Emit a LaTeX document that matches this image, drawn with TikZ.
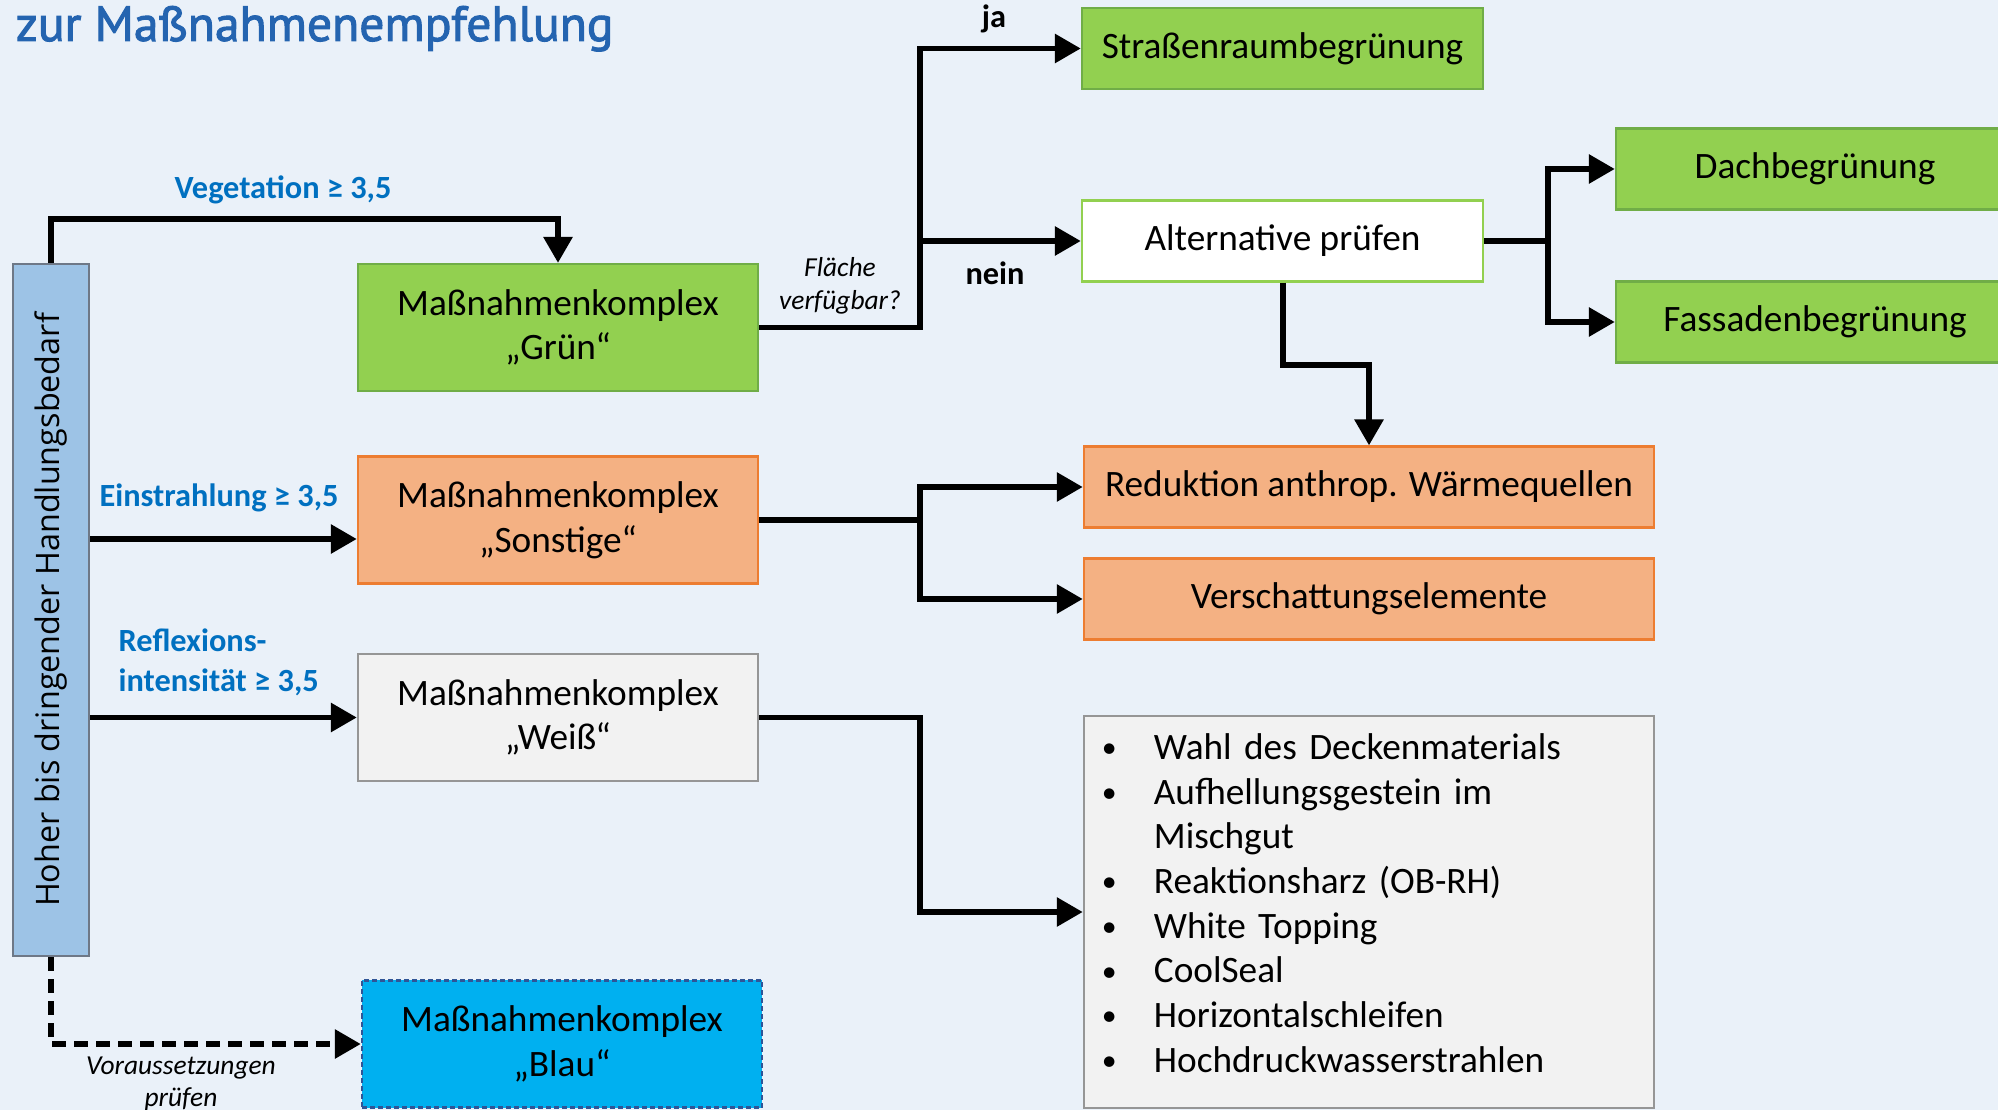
\documentclass[tikz,border=0pt]{standalone}
\usepackage{fontspec}
\setmainfont{Carlito}
\newfontfamily\titelfont[FakeBold=2]{PT Sans}
\newfontfamily\balkenfont{Open Sans}
\usetikzlibrary{arrows.meta}

\definecolor{hintergrund}{RGB}{234,241,249}
\definecolor{titelblau}{RGB}{36,100,176}
\definecolor{labelblau}{RGB}{0,112,192}
\definecolor{gruenfill}{RGB}{146,208,80}
\definecolor{gruenrand}{RGB}{112,173,71}
\definecolor{orangefill}{RGB}{244,177,131}
\definecolor{orangerand}{RGB}{237,125,49}
\definecolor{grauflaeche}{RGB}{242,242,242}
\definecolor{graurand}{RGB}{150,150,150}
\definecolor{blaufill}{RGB}{0,176,240}
\definecolor{blaurand}{RGB}{47,85,151}
\definecolor{balkenfill}{RGB}{157,195,230}
\definecolor{balkenrand}{RGB}{110,120,135}

\newcommand{\punkt}{\makebox[0.52cm][l]{\raisebox{0.1ex}{\scalebox{0.8}{\textbullet}}}}

\tikzset{
  kasten/.style={draw, line width=0.6pt, inner sep=0pt, align=center,
    minimum width=4cm, minimum height=1.27cm,
    font=\fontsize{10.6}{12.7}\selectfont},
  gruenbox/.style={kasten, fill=gruenfill, draw=gruenrand},
  orangebox/.style={kasten, fill=orangefill, draw=orangerand},
  weissbox/.style={kasten, fill=grauflaeche, draw=graurand},
  blaubox/.style={kasten, fill=blaufill, draw=blaurand, dash pattern=on 0.05cm off 0.03cm},
  flachbox/.style={minimum height=0.81cm},
  balken/.style={draw=balkenrand, fill=balkenfill, line width=0.6pt, rotate=90,
    minimum width=6.92cm, minimum height=0.76cm, inner sep=0pt,
    font=\balkenfont\fontsize{9.2}{11}\selectfont},
  listbox/.style={weissbox, align=left, text width=5.34cm, inner xsep=0.18cm,
    minimum width=5.7cm, minimum height=3.92cm},
  pfeil/.style={line width=1.7pt, -{Triangle[length=0.26cm,width=0.28cm]}},
  bedingung/.style={text=labelblau, font=\bfseries\fontsize{9.2}{11.3}\selectfont},
  hinweis/.style={align=center, font=\itshape\fontsize{7.8}{9.2}\selectfont},
  jn/.style={font=\bfseries\fontsize{9.2}{11}\selectfont},
}

\begin{document}
\begin{tikzpicture}[x=0.01cm,y=-0.01cm]
\useasboundingbox (0,0) rectangle (1998,1110);
\fill[hintergrund] (0,0) rectangle (1998,1110);

\node[anchor=base west, inner sep=0pt, text=titelblau,
  font=\titelfont\fontsize{14.1}{17}\selectfont] (titel) at (15,41) {zur Maßnahmenempfehlung};

% linke Spalte
\node[balken] (bar) at (51,610) {Hoher bis dringender Handlungsbedarf};
\node[gruenbox] (gruen) at (558,327.5) {Maßnahmenkomplex\\„Grün“};
\node[orangebox] (sonst) at (558,520) {Maßnahmenkomplex\\„Sonstige“};
\node[weissbox] (weiss) at (558,717.5) {Maßnahmenkomplex\\„Weiß“};
\node[blaubox] (blau) at (562,1044) {Maßnahmenkomplex\\„Blau“};

% rechte Spalten
\node[gruenbox, flachbox, minimum width=4.01cm] (strasse) at (1282.5,48.5) {Straßenraumbegrünung};
\node[kasten, flachbox, minimum width=4.01cm, fill=white, draw=gruenfill] (altern) at (1282.5,241) {Alternative prüfen};
\node[gruenbox, flachbox, minimum width=3.98cm] (dach) at (1815,169) {Dachbegrünung};
\node[gruenbox, flachbox, minimum width=3.98cm] (fassade) at (1815,322) {Fassadenbegrünung};
\node[orangebox, flachbox, minimum width=5.7cm] (redukt) at (1369,487) {Reduktion anthrop. Wärmequellen};
\node[orangebox, flachbox, minimum width=5.7cm] (schatten) at (1369,599) {Verschattungselemente};
\node[listbox] (liste) at (1369,912) {\punkt Wahl des Deckenmaterials\\
  \punkt Aufhellungsgestein im\\
  \hspace*{0.52cm}Mischgut\\
  \punkt Reaktionsharz (OB-RH)\\
  \punkt White Topping\\
  \punkt CoolSeal\\
  \punkt Horizontalschleifen\\
  \punkt \raisebox{0pt}[\height][\dimexpr\depth+0.18cm]{Hochdruckwasserstrahlen}};

\coordinate (knoten) at (920,0);
\coordinate (knotenb) at (1548,0);
\coordinate (einin) at ([yshift=-0.19cm]sonst.west);

% Verbindungen
\draw[pfeil] (bar.east) -- ++(0,-44) -| (gruen.north);
\draw[pfeil] (einin -| bar.south) -- (einin);
\draw[pfeil] (weiss.west -| bar.south) -- (weiss.west);
\draw[pfeil, dash pattern=on 0.14cm off 0.08cm] (bar.west) |- (blau.west);

\draw[pfeil] (gruen.east) -| (knoten |- strasse) -- (strasse.west);
\draw[pfeil] (knoten |- altern) -- (altern.west);
\draw[pfeil] (altern.east) -| (knotenb |- dach) -- (dach.west);
\draw[pfeil] (altern.east) -| (knotenb |- fassade) -- (fassade.west);
\draw[pfeil] (altern.south) -- ++(0,82) -| (redukt.north);

\draw[pfeil] (sonst.east) -| (knoten |- redukt) -- (redukt.west);
\draw[pfeil] (sonst.east) -| (knoten |- schatten) -- (schatten.west);
\draw[pfeil] (weiss.east) -| (knoten |- liste) -- (liste.west);

% Beschriftungen
\node[bedingung] (veg) at (283,190) {Vegetation ≥ 3,5};
\node[bedingung] (ein) at (219,498) {Einstrahlung ≥ 3,5};
\node[bedingung, anchor=west, align=left, inner xsep=0pt] (refl) at (118,662) {Reflexions-\\intensität ≥ 3,5};
\node[hinweis] (flaeche) at (840,286) {Fläche\\verfügbar?};
\node[hinweis] (vorauss) at (181,1084) {Voraussetzungen\\prüfen};
\node[jn] (ja) at (994,19) {ja};
\node[jn] (nein) at (995,273) {nein};
\end{tikzpicture}
\end{document}
